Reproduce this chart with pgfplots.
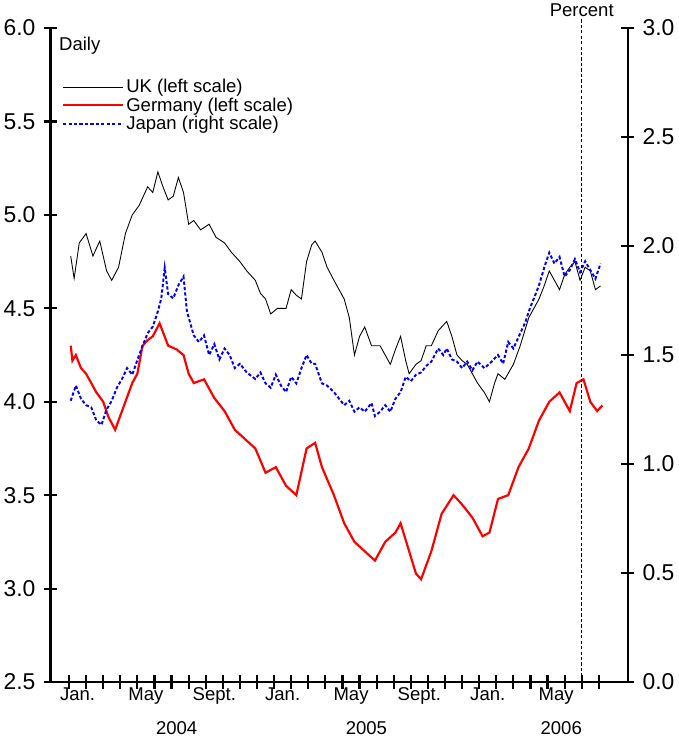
\documentclass[border=0pt]{standalone}
\usepackage{pgfplots}
\pgfplotsset{compat=1.18}
\usepackage{fontspec}
\setmainfont{Liberation Sans}
\begin{document}
\begin{tikzpicture}
\pgfplotsset{common/.style={
  width=530pt, height=600pt, scale only axis,
  xmin=-1.1, xmax=32.7,
  tick align=inside, major tick length=12pt,
  every tick/.style={line width=2pt, black},
  axis line style={line width=2.5pt},
  /pgf/number format/assume math mode=true,
  /pgf/number format/fixed, /pgf/number format/fixed zerofill,
  /pgf/number format/precision=1,
  tick label style={font=\fontsize{21}{21}\selectfont},
  yticklabel style={xshift=-4pt},
}}
\begin{axis}[common,
  axis x line=bottom, axis y line=left, x axis line style={-}, y axis line style={-},
  ymin=2.5, ymax=6.0, ytick={2.5,3,...,6.0},
  xtick={0,...,31}, xticklabels={},
  extra x ticks={0.5,4.5,8.5,12.5,16.5,20.5,24.5,28.5},
  extra x tick labels={Jan.,May,Sept.,Jan.,May,Sept.,Jan.,May},
  extra x tick style={major tick length=0pt, tick label style={font=\fontsize{17}{17}\selectfont, yshift=-2pt}},
  clip=false,
  legend style={at={(0.02,0.925)}, anchor=north west, draw=none, fill=none,
    font=\fontsize{17}{17}\selectfont, row sep=-1pt, inner sep=0pt},
  legend cell align=left,
  legend image code/.code={\draw[#1] (0pt,0pt) -- (55pt,0pt);},
]
\addplot[black, line width=0.8pt] coordinates {
(0.1,4.78)(0.3,4.66)(0.6,4.85)(1.0,4.90)(1.4,4.78)(1.8,4.86)(2.2,4.70)(2.5,4.65)(2.9,4.72)(3.3,4.90)(3.7,5.00)(4.1,5.05)(4.6,5.15)(4.9,5.12)(5.2,5.23)(5.5,5.15)(5.8,5.08)(6.1,5.10)(6.4,5.20)(6.7,5.12)(7.0,4.95)(7.3,4.97)(7.7,4.92)(8.2,4.95)(8.6,4.88)(9.1,4.85)(9.5,4.80)(10.0,4.75)(10.4,4.70)(10.9,4.65)(11.2,4.58)(11.5,4.55)(11.8,4.47)(12.2,4.50)(12.7,4.50)(13.0,4.60)(13.3,4.57)(13.6,4.55)(13.9,4.75)(14.2,4.84)(14.4,4.86)(14.8,4.80)(15.1,4.72)(15.5,4.65)(15.8,4.60)(16.1,4.55)(16.4,4.45)(16.7,4.25)(17.0,4.35)(17.3,4.40)(17.7,4.30)(18.2,4.30)(18.5,4.25)(18.8,4.20)(19.1,4.28)(19.4,4.35)(19.7,4.22)(19.9,4.15)(20.3,4.20)(20.6,4.22)(20.9,4.30)(21.2,4.30)(21.6,4.38)(22.1,4.43)(22.4,4.35)(22.7,4.25)(23.0,4.22)(23.3,4.20)(23.6,4.15)(23.9,4.10)(24.3,4.05)(24.6,4.00)(24.9,4.10)(25.1,4.15)(25.5,4.12)(26.0,4.20)(26.4,4.30)(26.9,4.45)(27.2,4.50)(27.5,4.55)(27.8,4.62)(28.1,4.70)(28.4,4.65)(28.7,4.60)(29.0,4.68)(29.3,4.72)(29.6,4.75)(29.9,4.65)(30.2,4.72)(30.5,4.70)(30.8,4.60)(31.1,4.62)
};
\addlegendentry{UK (left scale)}
\addplot[red, line width=2pt] coordinates {
(0.1,4.30)(0.2,4.22)(0.4,4.25)(0.7,4.18)(1.0,4.15)(1.3,4.10)(1.6,4.05)(2.0,4.00)(2.3,3.92)(2.7,3.85)(3.1,3.95)(3.7,4.10)(4.0,4.15)(4.3,4.30)(4.6,4.33)(4.9,4.35)(5.3,4.42)(5.8,4.30)(6.3,4.28)(6.7,4.25)(7.0,4.15)(7.3,4.10)(7.9,4.12)(8.5,4.02)(9.1,3.95)(9.7,3.85)(10.3,3.80)(10.9,3.75)(11.5,3.62)(12.1,3.65)(12.7,3.55)(13.3,3.50)(13.9,3.75)(14.4,3.78)(14.8,3.65)(15.5,3.50)(16.1,3.35)(16.7,3.25)(17.3,3.20)(17.9,3.15)(18.5,3.25)(19.1,3.30)(19.4,3.35)(19.9,3.20)(20.3,3.08)(20.6,3.05)(21.2,3.20)(21.8,3.40)(22.5,3.50)(23.0,3.45)(23.6,3.38)(24.2,3.28)(24.6,3.30)(25.1,3.48)(25.7,3.50)(26.3,3.65)(26.9,3.75)(27.5,3.90)(28.1,4.00)(28.7,4.05)(29.3,3.95)(29.7,4.10)(30.1,4.12)(30.5,4.00)(30.9,3.95)(31.2,3.98)
};
\addlegendentry{Germany (left scale)}
\addlegendimage{blue, densely dashed, line width=1.8pt}
\addlegendentry{Japan (right scale)}
\draw[densely dashed, line width=0.6pt] (axis cs:30,2.5) -- ([yshift=8pt]axis cs:30,6.0);
\node[anchor=north west, font=\fontsize{17}{17}\selectfont] at (axis cs:-0.8,5.97) {Daily};
\node[anchor=south, font=\fontsize{17}{17}\selectfont] at (axis cs:30,6.0) [yshift=7pt] {Percent};
\node[font=\fontsize{17}{17}\selectfont] at (axis cs:6.3,2.5) [yshift=-42pt] {2004};
\node[font=\fontsize{17}{17}\selectfont] at (axis cs:17.4,2.5) [yshift=-42pt] {2005};
\node[font=\fontsize{17}{17}\selectfont] at (axis cs:28.8,2.5) [yshift=-42pt] {2006};
\end{axis}
\begin{axis}[common,
  axis x line=none, axis y line=right, y axis line style={-},
  ymin=0, ymax=3.0, ytick={0,0.5,...,3.0},
  yticklabel style={xshift=8pt},
]
\addplot[blue, densely dashed, line width=1.8pt] coordinates {
(0.1,1.29)(0.4,1.36)(0.7,1.30)(1.0,1.27)(1.3,1.26)(1.6,1.20)(1.9,1.18)(2.2,1.25)(2.5,1.29)(2.8,1.35)(3.1,1.39)(3.4,1.44)(3.7,1.41)(4.1,1.50)(4.3,1.54)(4.6,1.60)(4.9,1.63)(5.2,1.70)(5.4,1.76)(5.6,1.90)(5.8,1.78)(6.1,1.76)(6.4,1.82)(6.7,1.86)(6.9,1.70)(7.3,1.59)(7.6,1.56)(7.9,1.59)(8.2,1.50)(8.5,1.55)(8.8,1.48)(9.1,1.53)(9.4,1.50)(9.7,1.44)(10.0,1.46)(10.4,1.42)(10.9,1.39)(11.2,1.42)(11.5,1.37)(11.8,1.35)(12.1,1.41)(12.4,1.36)(12.7,1.33)(13.0,1.40)(13.3,1.37)(13.6,1.44)(13.9,1.50)(14.2,1.46)(14.4,1.46)(14.8,1.37)(15.1,1.36)(15.5,1.33)(15.8,1.30)(16.1,1.27)(16.4,1.29)(16.7,1.24)(17.0,1.26)(17.3,1.24)(17.7,1.28)(17.9,1.22)(18.2,1.24)(18.5,1.27)(18.8,1.24)(19.1,1.30)(19.4,1.33)(19.7,1.40)(20.0,1.38)(20.3,1.41)(20.6,1.42)(20.9,1.45)(21.2,1.47)(21.6,1.53)(21.9,1.50)(22.1,1.53)(22.4,1.48)(22.7,1.47)(23.0,1.44)(23.3,1.47)(23.6,1.43)(23.9,1.47)(24.3,1.44)(24.6,1.46)(25.1,1.50)(25.4,1.46)(25.7,1.56)(26.0,1.53)(26.4,1.60)(26.7,1.65)(26.9,1.70)(27.2,1.76)(27.5,1.82)(27.8,1.90)(28.1,1.97)(28.4,1.92)(28.7,1.95)(29.0,1.86)(29.3,1.89)(29.6,1.94)(29.9,1.88)(30.2,1.93)(30.5,1.89)(30.8,1.85)(31.1,1.92)
};
\end{axis}
\end{tikzpicture}
\end{document}
